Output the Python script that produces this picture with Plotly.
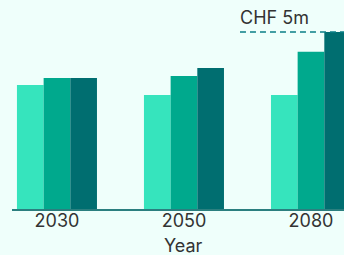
import plotly.graph_objects as go

years = ["2030", "2050", "2080"]
series_a = [3.50, 3.22, 3.22]
series_b = [3.70, 3.76, 4.44]
series_c = [3.70, 3.98, 5.00]
colors = ["#36e4bd", "#00a98d", "#006e70"]
ref_value = 5.0
ref_label = "CHF 5m"

FONT = "Inter"

fig = go.Figure()
for vals, col in zip([series_a, series_b, series_c], colors):
    fig.add_trace(go.Bar(x=years, y=vals, marker=dict(color=col, line=dict(width=0)),
                         showlegend=False, hoverinfo="skip"))

fig.add_shape(type="line", xref="x", yref="y", x0=1.441, x1=2.3, y0=ref_value, y1=ref_value,
              line=dict(color="#0a7f86", width=1.5, dash="6px,4px"))
fig.add_annotation(xref="x", yref="y", x=1.441, y=ref_value, text=ref_label, showarrow=False,
                   xanchor="left", yanchor="middle", yshift=15, xshift=-2,
                   font=dict(family=FONT, size=18, color="#333333"))
fig.add_annotation(xref="x", yref="paper", x=1, y=0, text="Year", showarrow=False,
                   xanchor="center", yanchor="middle", yshift=-36,
                   font=dict(family=FONT, size=18, color="#333333"))

fig.update_layout(
    width=344, height=255,
    margin=dict(l=12, r=0, t=0, b=46, autoexpand=False),
    paper_bgcolor="#effffb", plot_bgcolor="#effffb",
    barmode="group", bargap=0.37, bargroupgap=0,
    font=dict(family=FONT, size=18, color="#333333"),
    xaxis=dict(type="category", range=[-0.354, 2.26], showline=True, linecolor="#2b7f7f",
               linewidth=2, showgrid=False, ticks="", automargin=False, ticklabelstandoff=-6,
               tickfont=dict(family=FONT, size=18, color="#333333")),
    yaxis=dict(range=[0, 5.904], visible=False, showgrid=False, automargin=False),
)

fig.write_html("out.html", config={"displayModeBar": False},
               post_script="document.body.style.margin='0';document.body.style.background='#effffb';")
